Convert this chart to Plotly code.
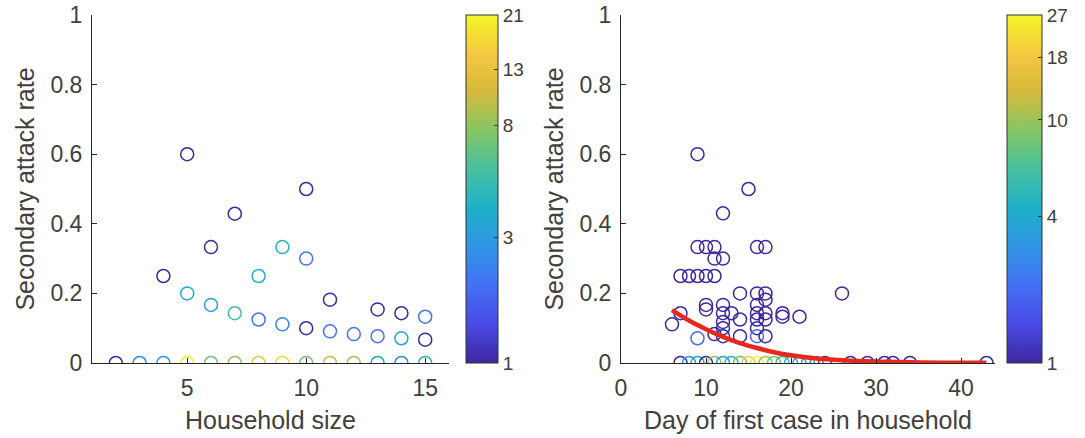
import numpy as np
import plotly.graph_objects as go

# ---------------- data: left panel (household size) ----------------
hh_size = [2, 3, 4, 5, 6, 7, 8, 9, 10, 11, 12, 13, 14, 15,
           4, 5, 5, 6, 6, 7, 7, 8, 8, 9, 9, 10, 10, 10, 11, 11, 12, 13, 13, 14, 14, 15, 15]
hh_sar = [0, 0, 0, 0, 0, 0, 0, 0, 0, 0, 0, 0, 0, 0,
          0.25, 0.6, 0.2, 0.333, 0.167, 0.429, 0.143, 0.25, 0.125, 0.333, 0.111,
          0.5, 0.3, 0.1, 0.182, 0.091, 0.083, 0.154, 0.077, 0.143, 0.071, 0.133, 0.067]
hh_count = [1, 2.5, 3, 21, 7, 8, 14, 17, 7, 11, 9, 3.5, 2.5, 4.5,
            1, 1, 3.5, 1, 3, 1, 5, 4, 2, 4, 2.5, 1, 2, 1, 1, 2, 2, 1, 2, 1, 3.5, 2, 1]
left_cb_ticks = [1, 3, 8, 13, 21]

# ---------------- data: right panel (day of first case) ----------------
day_first = [7, 8, 9, 10, 11, 12, 13, 14, 15, 16, 17, 18, 19, 20, 21, 22, 23, 24, 27, 29, 31, 32, 34, 43,
             9, 15, 12,
             9, 10, 11, 16, 17,
             11, 12,
             7, 8, 9, 10, 11,
             14, 16, 17, 26,
             6, 7, 9, 10, 10, 11,
             12, 12, 12, 12, 12, 13,
             14, 14,
             16, 16, 16, 16, 16,
             17, 17, 17, 17,
             19, 19, 21]
day_sar = [0] * 24 + [
    0.6, 0.5, 0.43,
    0.333, 0.333, 0.333, 0.333, 0.333,
    0.3, 0.3,
    0.25, 0.25, 0.25, 0.25, 0.25,
    0.2, 0.2, 0.2, 0.2,
    0.111, 0.143, 0.071, 0.167, 0.154, 0.083,
    0.167, 0.143, 0.118, 0.1, 0.077, 0.143,
    0.125, 0.077,
    0.167, 0.143, 0.125, 0.1, 0.077,
    0.182, 0.143, 0.125, 0.077,
    0.143, 0.133, 0.133]
day_count = [1, 3, 4, 1, 10, 3, 5, 8, 20, 27, 10, 8, 6, 5, 4, 3, 2, 1, 1, 1, 1, 1, 1, 1,
             1, 1, 1,
             1, 1, 1, 1, 1,
             1, 1,
             1, 1, 1, 1, 1,
             1, 1, 1, 1,
             1, 1, 2, 1, 1, 1,
             1, 1, 1, 1, 1, 1,
             1, 1,
             1, 1, 1, 1, 2,
             1, 1, 1, 1,
             1, 1, 1]
right_cb_ticks = [1, 4, 10, 18, 27]

# fitted curve
fit_day = [6, 8, 10, 12, 14, 16, 18, 20, 23, 26, 30, 34, 38, 43]
fit_sar = [0.152, 0.122, 0.097, 0.075, 0.057, 0.043, 0.031, 0.022, 0.013, 0.008, 0.004, 0.002, 0.001, 0.0005]

# ---------------- styling ----------------
W, H = 1085, 438
parula = [
    [0.0, "rgb(62,40,160)"],
    [1/9, "rgb(72,74,228)"],
    [2/9, "rgb(68,112,245)"],
    [3/9, "rgb(48,148,228)"],
    [4/9, "rgb(30,176,200)"],
    [5/9, "rgb(70,192,160)"],
    [6/9, "rgb(132,198,100)"],
    [7/9, "rgb(212,186,60)"],
    [8/9, "rgb(244,200,64)"],
    [1.0, "rgb(245,245,40)"],
]
FONT = "Liberation Sans, Arial, sans-serif"
TXT = "#404040"
AX = "#262626"

def px_x(p):
    return p / W

def px_y(p):
    return 1 - p / H

y_bot, y_top = 363, 15

fig = go.Figure()

def add_scatter(x, y, c, cticks, xa, ya, cb_left, cb_w):
    cmax = np.log(max(cticks))
    fig.add_trace(go.Scatter(
        x=x, y=y, mode="markers", xaxis=xa, yaxis=ya, showlegend=False,
        marker=dict(
            symbol="circle-open", size=13,
            color=np.log(np.array(c, dtype=float)),
            colorscale=parula, cmin=0, cmax=cmax,
            line=dict(width=1.5),
            showscale=True,
            colorbar=dict(
                x=px_x(cb_left), xanchor="left", y=px_y(y_bot), yanchor="bottom",
                len=(y_bot - y_top) / H, lenmode="fraction",
                thickness=cb_w, thicknessmode="pixels",
                xpad=0, ypad=0, outlinewidth=1, outlinecolor="#333333",
                tickvals=np.log(np.array(cticks, dtype=float)),
                ticktext=[str(t) for t in cticks],
                ticks="inside", ticklen=4, tickcolor="#333333",
                tickfont=dict(family=FONT, size=19, color=TXT),
            ),
        ),
    ))

add_scatter(hh_size, hh_sar, hh_count, left_cb_ticks, "x", "y", 466, 32)
add_scatter(day_first, day_sar, day_count, right_cb_ticks, "x2", "y2", 1007, 35)

fig.add_trace(go.Scatter(
    x=fit_day, y=fit_sar, mode="lines", xaxis="x2", yaxis="y2", showlegend=False,
    line=dict(color="rgb(232,40,30)", width=4.5, shape="spline"),
))

axis_common = dict(
    showline=True, linecolor=AX, linewidth=1, mirror=False,
    showgrid=False, zeroline=False, ticks="inside", ticklen=5, tickcolor=AX,
    tickfont=dict(family=FONT, size=23, color=TXT), automargin=False,
)
title_font = dict(family=FONT, size=25, color=TXT)

fig.update_layout(
    width=W, height=H, template="none",
    paper_bgcolor="white", plot_bgcolor="white",
    margin=dict(l=0, r=0, t=0, b=0, autoexpand=False),
    xaxis=dict(domain=[px_x(92), px_x(449)], range=[1, 16], tickvals=[5, 10, 15],
               anchor="y", ticklabelstandoff=4,
               title=dict(text="Household size", standoff=11, font=title_font),
               **axis_common),
    yaxis=dict(domain=[px_y(y_bot), px_y(y_top)], range=[0, 1],
               tickvals=[0, 0.2, 0.4, 0.6, 0.8, 1], ticktext=["0", "0.2", "0.4", "0.6", "0.8", "1"],
               anchor="x", ticklabelstandoff=4,
               title=dict(text="Secondary attack rate", standoff=8, font=title_font),
               **axis_common),
    xaxis2=dict(domain=[px_x(621), px_x(995)], range=[0, 44], tickvals=[0, 10, 20, 30, 40],
                anchor="y2", ticklabelstandoff=4,
                title=dict(text="Day of first case in household", standoff=11, font=title_font),
                **axis_common),
    yaxis2=dict(domain=[px_y(y_bot), px_y(y_top)], range=[0, 1],
                tickvals=[0, 0.2, 0.4, 0.6, 0.8, 1], ticktext=["0", "0.2", "0.4", "0.6", "0.8", "1"],
                anchor="x2", ticklabelstandoff=4,
                title=dict(text="Secondary attack rate", standoff=8, font=title_font),
                **axis_common),
)

fig.write_html("out.html")
